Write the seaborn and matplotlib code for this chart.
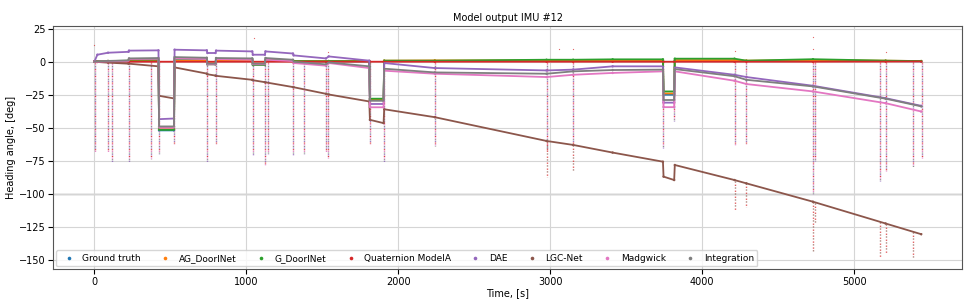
import pandas as pd
import numpy as np
import matplotlib
matplotlib.use("Agg")
import matplotlib.pyplot as plt
import seaborn as sns

# knot times (s); paired values per model below
time_s = [0, 20, 90, 225, 228, 422, 426, 524, 528, 740, 744, 797, 801, 1039, 1043,
          1122, 1126, 1307, 1311, 1524, 1542, 1809, 1813, 1903, 1907, 2240, 2975,
          3150, 3410, 3741, 3745, 3815, 3819, 4212, 4290, 4728, 5206, 5440]

ground_truth = [0, 0.1, 0.2, 0.3, 0.8, 0.8, -52, -52, 1.0, 1.0, -1.8, -1.8, 1.0, 1.0, -2.0,
                -2.0, 0.8, 0.6, 0.3, 0.3, 0.3, 0.3, -28.5, -28.5, 0.5, 0.5, 0.8,
                0.8, 0.8, 0.8, -25, -25, 0.8, 0.8, 0.5, 0.8, 0.5, 0.3]
ag_doorinet = [0, 0.3, 0.5, 0.5, 0.8, 0.8, -51, -51, 0.8, 0.8, -1.2, -1.2, 0.8, 0.8, -1.5,
               -1.5, 0.8, 0.8, 0.5, 0.5, 0.5, 0.5, -28.5, -28.5, 0.8, 1.0, 1.0,
               1.0, 1.0, 1.0, -24, -24, 1.2, 1.2, 0.8, 1.2, 0.8, 0.5]
g_doorinet = [0, 0.3, 0.5, 0.8, 1.5, 1.5, -51.6, -51.6, 2.2, 2.0, -2.0, -2.0, 2.0, 2.0, -2.5,
              -2.5, 1.5, 1.0, 0.5, 0.3, 0.5, 0.3, -28, -28, 0.8, 0.8, 1.5,
              1.5, 1.8, 1.8, -22.5, -22.5, 2.3, 2.3, 0.8, 1.9, 0.8, 0.5]
quaternion_a = [0, 0, 0, 0, 0, 0, 0, 0, 0, 0, 0, 0, 0, 0, 0,
                0, 0, 0, 0, 0, 0, 0, 0, 0, 0, 0, 0,
                0, 0, 0, 0, 0, 0, 0, 0, 0, 0.1, 0.2]
dae = [0, 5.3, 6.8, 7.5, 8.4, 8.6, -43.5, -43, 9.1, 8.6, 6.6, 6.6, 8.4, 7.8, 5.3,
       5.3, 7.8, 6.2, 4.8, 2.5, 4.0, 0.8, -32, -32, -1, -4.8, -6.6,
       -6, -3.5, -3.5, -31, -31, -4.3, -9.9, -11.6, -18.2, -27.6, -33.4]
lgc_net = [0, -0.2, -0.7, -1.5, -1.5, -3.5, -25.8, -27.8, -4.3, -9, -9.5, -10.5, -10.7, -13.7, -14,
           -15.5, -15.6, -19.2, -19.3, -24.3, -24.8, -30.1, -44, -46.5, -36, -42, -60,
           -63, -68.8, -75.7, -87, -89.6, -78.2, -89.6, -92.1, -106, -122.5, -130.6]
madgwick = [0, 0, 0.3, 0.6, 2.0, 2.2, -50, -50, 2.5, 2.0, -2, -2, 2.0, 1.5, -2,
            -2, 1.5, 0.5, -1.0, -3.0, -1.0, -4.8, -34.5, -34.5, -6.8, -9.1, -11.6,
            -9.9, -8.5, -7.3, -34.4, -34.4, -7.3, -14.4, -16.9, -22.5, -31.4, -37.7]
integration = [0, 0.3, 0.6, 1.0, 2.5, 2.8, -49, -49, 3.5, 3.0, -1.5, -1.5, 2.8, 2.5, -1.5,
               -1.5, 2.8, 1.5, 0.0, -2.0, -0.5, -3.5, -29.6, -29.6, -5.3, -8.1, -9.1,
               -7.3, -6.3, -6, -29, -29, -5.6, -11, -13.7, -18.7, -28, -33.8]

models = ["Ground truth", "AG_DoorINet", "G_DoorINet", "Quaternion ModelA",
          "DAE", "LGC-Net", "Madgwick", "Integration"]

# door-crossing dropouts: time, lowest value (all models)
spike_t = [2, 90, 117, 227, 372, 424, 526, 742, 799, 1041, 1124, 1140, 1309, 1378, 1525, 1540,
           1811, 1905, 2240, 2977, 3149, 3743, 3817, 4213, 4290, 4728, 4744, 5170, 5206, 5386, 5446]
spike_low = [-68, -68, -76, -76, -74, -70, -62, -76, -62, -71, -78, -70, -71, -70, -68, -73,
             -62, -76, -64, -67, -63, -65, -45, -63, -62, -100, -75, -90, -83, -80, -73]
# LGC-Net dropouts below its own curve: time, top, bottom
lgc_spike_t = [2977, 3149, 4213, 4290, 4728, 4744, 5170, 5206, 5386]
lgc_spike_top = [-60, -63, -90, -92, -106, -107, -121, -122.5, -128.8]
lgc_spike_low = [-87, -83, -112, -110, -143, -122, -148, -145, -148]
# stray points above zero
outlier_t = [0, 1050, 1540, 3054, 3149, 4213, 4728, 4728, 5206]
outlier_v = [13, 18, 7, 9.6, 10, 8, 19, 10, 7]

series = [ground_truth, ag_doorinet, g_doorinet, quaternion_a, dae, lgc_net, madgwick, integration]
df = pd.concat([pd.DataFrame({"Time, [s]": time_s, "Heading angle, [deg]": v, "model": m})
                for m, v in zip(models, series)], ignore_index=True)

plt.rcParams["font.size"] = 7
plt.rcParams["xtick.major.pad"] = 2
plt.rcParams["ytick.major.pad"] = 2
fig, ax = plt.subplots(figsize=(9.69, 3.03), dpi=100)
pal = sns.color_palette("tab10", 8)

# dotted dropouts in a few colours
for c, off in [("tab:red", 0), ("tab:purple", 1.2), ("tab:gray", 2.4), ("tab:pink", 3.6)]:
    ax.vlines(spike_t, 0, spike_low, colors=c, linestyles=[(off, (0.8, 4))], lw=1.0, alpha=0.9)
for c, off in [("tab:brown", 0), ("tab:red", 2)]:
    ax.vlines(lgc_spike_t, lgc_spike_top, lgc_spike_low, colors=c, linestyles=[(off, (0.8, 3.5))],
              lw=1.0, alpha=0.9)
ax.scatter(outlier_t, outlier_v, s=0.8, color="tab:red", alpha=0.7, linewidths=0)

sns.lineplot(data=df, x="Time, [s]", y="Heading angle, [deg]", hue="model", hue_order=models,
             palette=pal, sort=False, estimator=None, lw=1.3, legend=False, ax=ax)
sns.scatterplot(data=df, x="Time, [s]", y="Heading angle, [deg]", hue="model", hue_order=models,
                palette=pal, s=3, linewidth=0, ax=ax)

ax.axhline(-100, color="#a0a0a0", lw=1.0, zorder=0)
ax.grid(True, color="#d5d5d5", lw=0.8)
ax.set_axisbelow(True)
ax.set_xlim(-270, 5710)
ax.set_ylim(-157, 27)
ax.set_title("Model output IMU #12", fontsize=7, pad=4)
ax.set_xlabel("Time, [s]", labelpad=1)
ax.set_ylabel("Heading angle, [deg]", labelpad=2)
ax.legend(loc="lower left", ncol=8, fontsize=6.5, markerscale=1.5, handletextpad=0.5,
          columnspacing=1.7, borderaxespad=0.3)
for sp in ax.spines.values():
    sp.set_color("#555555")

plt.subplots_adjust(left=0.055, right=0.993, top=0.914, bottom=0.112)
plt.savefig("out.png")
